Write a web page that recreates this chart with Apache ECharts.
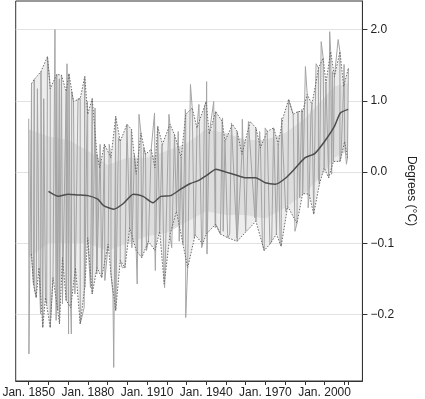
<!DOCTYPE html>
<html>
<head>
<meta charset="utf-8">
<script src="https://cdn.jsdelivr.net/npm/echarts@6/dist/echarts.min.js"></script>
<style>
  html, body { margin: 0; padding: 0; background: #fff; }
  #chart { width: 425px; height: 399px; }
</style>
</head>
<body>
<div id="chart"></div>
<script>
  // upper dashed envelope
  const upperYears = [1851.4, 1852.8, 1856.2, 1859.5, 1860.9, 1864.2, 1866.6, 1869.0, 1870.4, 1872.7,
    1876.1, 1878.4, 1879.9, 1882.2, 1884.6, 1886.0, 1888.4, 1891.7, 1894.1, 1896.4,
    1899.8, 1902.1, 1904.5, 1906.9, 1909.2, 1912.1, 1914.0, 1915.4, 1917.8, 1921.6,
    1923.9, 1927.3, 1929.6, 1932.9, 1935.3, 1939.1, 1940.0, 1941.5, 1944.8, 1948.1,
    1949.5, 1953.3, 1955.7, 1958.1, 1962.3, 1965.2, 1967.5, 1970.9, 1974.2, 1976.5,
    1978.9, 1981.8, 1984.1, 1986.5, 1988.9, 1991.2, 1993.6, 1995.5, 1996.9, 1999.3,
    2000.7, 2003.1, 2005.0, 2007.8, 2009.7, 2012.1]
  const upperVals = [1.24, 1.30, 1.41, 1.62, 1.17, 1.37, 1.36, 1.13, 1.38, 0.99,
    1.03, 1.34, 0.81, 1.03, 0.25, 0.06, 0.39, 0.20, 0.78, 0.43,
    0.67, 0.60, -0.03, 0.55, 0.25, 0.32, 0.06, 0.64, 0.39, 0.67,
    0.53, 0.20, 0.81, 0.90, 0.62, 0.92, 0.99, 0.53, 0.85, 0.71,
    0.43, 0.67, 0.57, 0.25, 0.71, 0.62, 0.34, 0.57, 0.62, 0.39,
    0.76, 1.02, 0.81, 0.85, 0.85, 1.09, 0.95, 1.23, 1.46, 1.60,
    1.25, 1.69, 1.34, 1.69, 1.20, 1.46]

  // lower dashed envelope
  const lowerYears = [1851.4, 1852.4, 1853.8, 1855.2, 1857.1, 1858.5, 1860.9, 1862.3, 1864.7, 1865.6,
    1867.1, 1869.0, 1871.3, 1873.7, 1876.1, 1878.4, 1879.9, 1882.2, 1884.6, 1887.0,
    1890.3, 1891.7, 1894.1, 1896.4, 1898.8, 1901.2, 1904.5, 1907.3, 1910.7, 1914.0,
    1916.4, 1918.7, 1921.6, 1924.9, 1928.2, 1930.6, 1934.4, 1938.2, 1940.0, 1944.8,
    1947.2, 1950.9, 1955.7, 1960.4, 1965.2, 1969.4, 1972.3, 1975.6, 1978.0, 1981.3,
    1986.0, 1988.9, 1992.2, 1994.5, 1997.4, 1999.8, 2002.1, 2004.5, 2007.8, 2010.2,
    2011.6]
  const lowerVals = [-1.15, -1.57, -1.76, -1.34, -2.18, -1.76, -2.18, -1.48, -1.94, -2.13,
    -1.20, -1.80, -1.90, -1.34, -2.13, -1.62, -0.92, -1.71, -1.34, -1.48,
    -1.01, -1.43, -1.94, -1.24, -1.34, -0.78, -1.10, -1.20, -0.97, -1.10,
    -0.83, -1.57, -0.88, -0.55, -1.01, -1.34, -0.88, -1.01, -0.87, -0.73,
    -0.87, -0.92, -0.97, -0.83, -0.69, -1.10, -1.01, -0.87, -1.04, -0.48,
    -0.72, -0.30, -0.31, -0.59, -0.17, 0.06, -0.08, 0.15, 0.15, 0.43,
    0.20]

  // tops and bottoms of the solid monthly strokes
  const strokeYears = [1851.3, 1852.8, 1854.4, 1856.0, 1857.6, 1859.1, 1860.7, 1863.9, 1865.5, 1867.1,
    1870.2, 1871.8, 1873.4, 1875.0, 1878.1, 1879.7, 1881.3, 1883.6, 1884.5, 1886.2,
    1888.6, 1890.8, 1892.7, 1895.5, 1897.4, 1900.2, 1902.3, 1903.6, 1905.0, 1908.3,
    1909.7, 1913.8, 1914.2, 1917.6, 1918.9, 1921.1, 1922.5, 1925.8, 1926.3, 1929.4,
    1933.9, 1936.3, 1937.7, 1943.8, 1944.6, 1948.3, 1948.6, 1951.9, 1952.8, 1955.5,
    1958.3, 1960.0, 1961.4, 1964.7, 1967.1, 1968.5, 1969.9, 1973.2, 1974.4, 1977.5,
    1978.2, 1980.3, 1982.2, 1985.1, 1987.4, 1988.4, 1990.8, 1991.7, 1993.1, 1994.7,
    1995.7, 1996.9, 1998.8, 2000.2, 2003.6, 2004.0, 2007.3, 2008.3, 2009.9, 2011.1]
  const strokeVals = [0.75, -1.62, 1.17, -1.99, 1.03, -1.85, 1.27, -2.08, 1.31, -1.85,
    -2.27, 1.13, -1.71, 1.03, -1.90, 0.99, -1.62, 0.90, -1.43, 0.39,
    -1.52, 0.39, -1.71, 0.48, -1.34, 0.67, -1.06, 0.25, -1.57, 0.34,
    -1.10, 0.83, -1.38, 0.39, -1.62, 0.81, -1.06, 0.57, -0.97, 0.88,
    -0.92, 0.95, -1.06, 0.99, -0.78, 0.76, -0.83, -0.87, 0.69, -0.92,
    0.74, -0.83, 0.71, -0.64, 0.57, -1.01, 0.62, -0.97, 0.62, -1.01,
    0.76, -0.55, 1.02, -0.83, -0.36, 0.88, 1.48, -0.50, 0.81, -0.59,
    1.52, -0.08, 1.83, 0.06, -0.03, 1.41, 1.86, 0.20, 1.51, 0.11]

  // single months sticking out of the band
  const spikeYears = [1850.0, 1850.1, 1863.3, 1869.4, 1871.6, 1893.1, 1905.9, 1929.6, 1932.0, 1940.2,
    1940.4, 1985.0, 1990.3, 1998.3, 2002.6, 2006.9]
  const spikeVals = [0.75, -2.55, 2.00, 1.52, -2.27, -2.74, 0.81, -2.04, 1.23, 1.27,
    -1.15, -0.83, 1.48, 1.83, 1.97, 1.86]

  // darker core where most months overlap
  const coreYears = [1850, 1860, 1870, 1880, 1890, 1900, 1910, 1920, 1930, 1940, 1950, 1960, 1970, 1980, 1990, 2000, 2005, 2012]
  const coreUpper = [0.60, 0.50, 0.45, 0.30, 0.10, 0.20, 0.20, 0.30, 0.40, 0.60, 0.55, 0.45, 0.45, 0.55, 0.75, 1.05, 1.20, 1.25]
  const coreLower = [-1.20, -1.00, -1.00, -1.00, -1.10, -1.00, -0.90, -0.85, -0.70, -0.55, -0.60, -0.60, -0.65, -0.50, -0.30, 0.00, 0.20, 0.30]

  // smoothed trend
  const trendYears = [1860, 1865, 1870, 1875, 1880, 1885, 1888, 1893, 1898, 1903, 1908, 1913, 1917,
    1922, 1927, 1932, 1936, 1940, 1945, 1950, 1955, 1960, 1965, 1970, 1975, 1980, 1985, 1990,
    1995, 2000, 2005, 2008, 2012]
  const trendVals = [-0.27, -0.34, -0.31, -0.32, -0.33, -0.38, -0.47, -0.52, -0.44, -0.31, -0.34, -0.43, -0.34,
    -0.33, -0.24, -0.16, -0.12, -0.05, 0.04, 0.00, -0.04, -0.08, -0.08, -0.15, -0.17, -0.09, 0.05, 0.20,
    0.26, 0.43, 0.64, 0.83, 0.88]

  const xTickYears = [1850, 1860, 1870, 1880, 1890, 1900, 1910, 1920, 1930, 1940, 1950, 1960, 1970, 1980, 1990, 2000, 2010, 2012]
  const xLabelYears = [1850, 1880, 1910, 1940, 1970, 2000]
  const yTickVals = [-2, -1, 0, 1, 2]
  const yTickLabels = ['\u22120.2', '\u22120.1', '0.0', '1.0', '2.0']

  const pairs = (xs, ys) => xs.map((x, i) => [x, ys[i]])
  const upper = pairs(upperYears, upperVals)
  const lower = pairs(lowerYears, lowerVals)
  const trend = pairs(trendYears, trendVals)
  // the raw monthly line runs through every read peak and trough in time order
  const raw = upper.concat(lower, pairs(strokeYears, strokeVals), pairs(spikeYears, spikeVals))
    .sort((a, b) => a[0] - b[0])

  const font = '"Liberation Sans", Arial, sans-serif'
  const textColor = '#222'

  // filled polygon between two read outlines
  function band(top, bottom, fill, z) {
    return {
      type: 'custom',
      silent: true,
      data: [0],
      renderItem(params, api) {
        const pts = top.map(p => api.coord(p)).concat(bottom.slice().reverse().map(p => api.coord(p)))
        return { type: 'polygon', shape: { points: pts }, style: { fill } }
      },
      z
    }
  }

  const myChart = echarts.init(document.getElementById('chart'))
  const option = {
    animation: false,
    grid: {
      left: 8, right: 46, top: 1, bottom: 18,
      show: true, borderColor: '#333', borderWidth: 1
    },
    xAxis: {
      type: 'value',
      min: 1843.4,
      max: 2019.2,
      axisLine: { show: true, onZero: false, lineStyle: { color: '#333' } },
      axisTick: { show: true, length: 4, customValues: xTickYears, lineStyle: { color: '#333' } },
      axisLabel: {
        customValues: xLabelYears,
        formatter: v => 'Jan. ' + v,
        color: textColor, fontFamily: font, fontSize: 12, margin: 6
      },
      splitLine: { show: false }
    },
    yAxis: {
      type: 'value',
      position: 'right',
      min: -2.93,
      max: 2.40,
      name: 'Degrees (°C)',
      nameLocation: 'middle',
      nameRotate: -90,
      nameGap: 36,
      nameTextStyle: { color: textColor, fontFamily: font, fontSize: 12 },
      axisLine: { show: true, lineStyle: { color: '#333' } },
      axisTick: { show: true, length: 5, customValues: yTickVals, lineStyle: { color: '#333' } },
      axisLabel: {
        customValues: yTickVals,
        formatter: v => yTickLabels[yTickVals.indexOf(v)],
        color: textColor, fontFamily: font, fontSize: 12, margin: 8
      },
      splitLine: { show: true, lineStyle: { color: '#e2e2e2', width: 1 } }
    },
    series: [
      band(upper, lower, '#ededed', 1),
      band(pairs(coreYears, coreUpper), pairs(coreYears, coreLower), '#dddddd', 1),
      {
        type: 'line',
        data: raw,
        showSymbol: false,
        lineStyle: { color: '#a4a4a4', width: 1 },
        z: 2
      },
      {
        type: 'line',
        data: upper,
        showSymbol: false,
        lineStyle: { color: '#6a6a6a', width: 1, type: [1.5, 1.5] },
        z: 3
      },
      {
        type: 'line',
        data: lower,
        showSymbol: false,
        lineStyle: { color: '#6a6a6a', width: 1, type: [1.5, 1.5] },
        z: 3
      },
      {
        type: 'line',
        data: trend,
        showSymbol: false,
        smooth: 0.2,
        lineStyle: { color: '#4d4d4d', width: 1.5 },
        z: 4
      }
    ]
  }
  myChart.setOption(option)
</script>
</body>
</html>
